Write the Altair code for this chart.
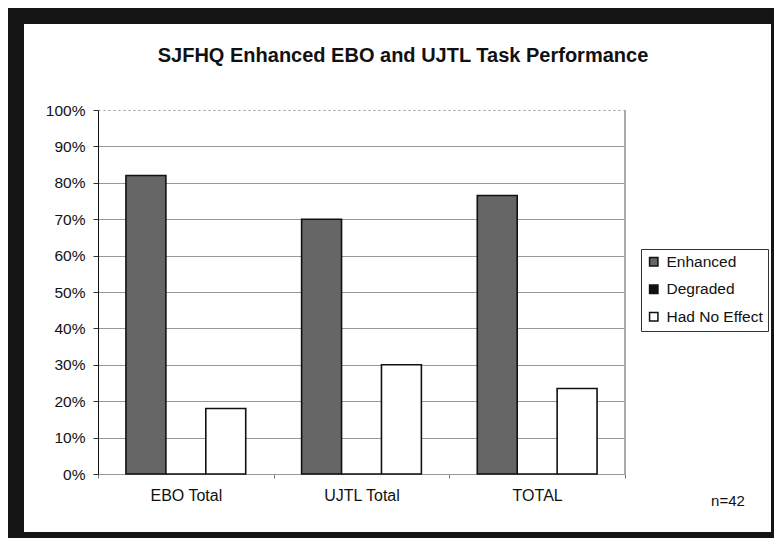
import altair as alt
import pandas as pd

groups = ["EBO Total", "UJTL Total", "TOTAL"]
series = ["Enhanced", "Degraded", "Had No Effect"]
enhanced = [0.82, 0.70, 0.765]
degraded = [0.0, 0.0, 0.0]
no_effect = [0.18, 0.30, 0.235]
y_ticks = [0.0, 0.1, 0.2, 0.3, 0.4, 0.5, 0.6, 0.7, 0.8, 0.9, 1.0]
colors = ["#666666", "#111111", "#ffffff"]
title_text = "SJFHQ Enhanced EBO and UJTL Task Performance"
note_text = "n=42"

rows = []
for i, g in enumerate(groups):
    for s, vals in zip(series, [enhanced, degraded, no_effect]):
        rows.append({"group": g, "series": s, "value": vals[i]})
df = pd.DataFrame(rows)
one = pd.DataFrame({"k": [0]})

W, H = 527, 364
PL, PT = 90, 102
TOTW, TOTH = 766, 530
PR, PB = TOTW - PL - W, TOTH - PT - H

bars = alt.Chart(df).mark_bar(stroke="#111111", strokeWidth=1.6).encode(
    x=alt.X("group:N", sort=groups,
            scale=alt.Scale(paddingInner=0, paddingOuter=0),
            axis=alt.Axis(title=None, labelAngle=0, labelFontSize=16, labelPadding=9,
                          tickBand="extent", tickSize=4, tickColor="#777777",
                          domainColor="#999999", labelColor="#111111", grid=False)),
    xOffset=alt.XOffset("series:N", sort=series,
                        scale=alt.Scale(paddingInner=0, paddingOuter=0.7)),
    y=alt.Y("value:Q", scale=alt.Scale(domain=[0, 1]),
            axis=alt.Axis(title=None, format=".0%", values=y_ticks, labelFontSize=15.5,
                          labelPadding=8, tickSize=5, tickColor="#333333",
                          domainColor="#111111", labelColor="#111111",
                          grid=True, gridColor="#999999", gridWidth=1,
                          gridDash=alt.condition("datum.value >= 0.999", alt.value([2, 3]), alt.value([])))),
    fill=alt.Fill("series:N", sort=series,
                  scale=alt.Scale(domain=series, range=colors),
                  legend=alt.Legend(title=None, orient="none", legendX=543, legendY=139,
                                    strokeColor="#333333", fillColor="#ffffff", padding=5,
                                    symbolType="square", symbolSize=70,
                                    symbolStrokeColor="#111111", symbolStrokeWidth=1.5,
                                    labelFontSize=15.5, labelColor="#111111",
                                    rowPadding=10.5, labelOffset=5)),
)

right_border = alt.Chart(one).mark_rule(color="#aaaaaa", strokeWidth=2).encode(
    x=alt.value(W), y=alt.value(0), y2=alt.value(H))

note = alt.Chart(one).mark_text(fontSize=15, color="#111111", align="center", baseline="middle").encode(
    x=alt.value(630), y=alt.value(391), text=alt.value(note_text))

title = alt.Chart(one).mark_text(fontSize=20, fontWeight="bold", color="#111111",
                                 align="center", baseline="alphabetic").encode(
    x=alt.value(305), y=alt.value(-48), text=alt.value(title_text))

def frame(x1, x2, y1, y2):
    return alt.Chart(one).mark_rect(color="#141414").encode(
        x=alt.value(x1), x2=alt.value(x2), y=alt.value(y1), y2=alt.value(y2))

frames = [
    frame(-PL, W + PR + 10, -PT, -PT + 16),
    frame(-PL, -PL + 16, -PT, H + PB + 10),
    frame(W + PR - 3, W + PR + 10, -PT, H + PB + 10),
    frame(-PL, W + PR + 10, H + PB - 6, H + PB + 10),
]

chart = alt.layer(bars, right_border, note, title, *frames).properties(
    width=W, height=H,
    autosize=alt.AutoSizeParams(type="none"),
    padding={"left": PL, "top": PT, "right": PR, "bottom": PB},
    background="#ffffff",
).configure(font="Liberation Sans").configure_view(stroke=None)

chart.save("out.html", embed_options={"renderer": "svg", "actions": False})
